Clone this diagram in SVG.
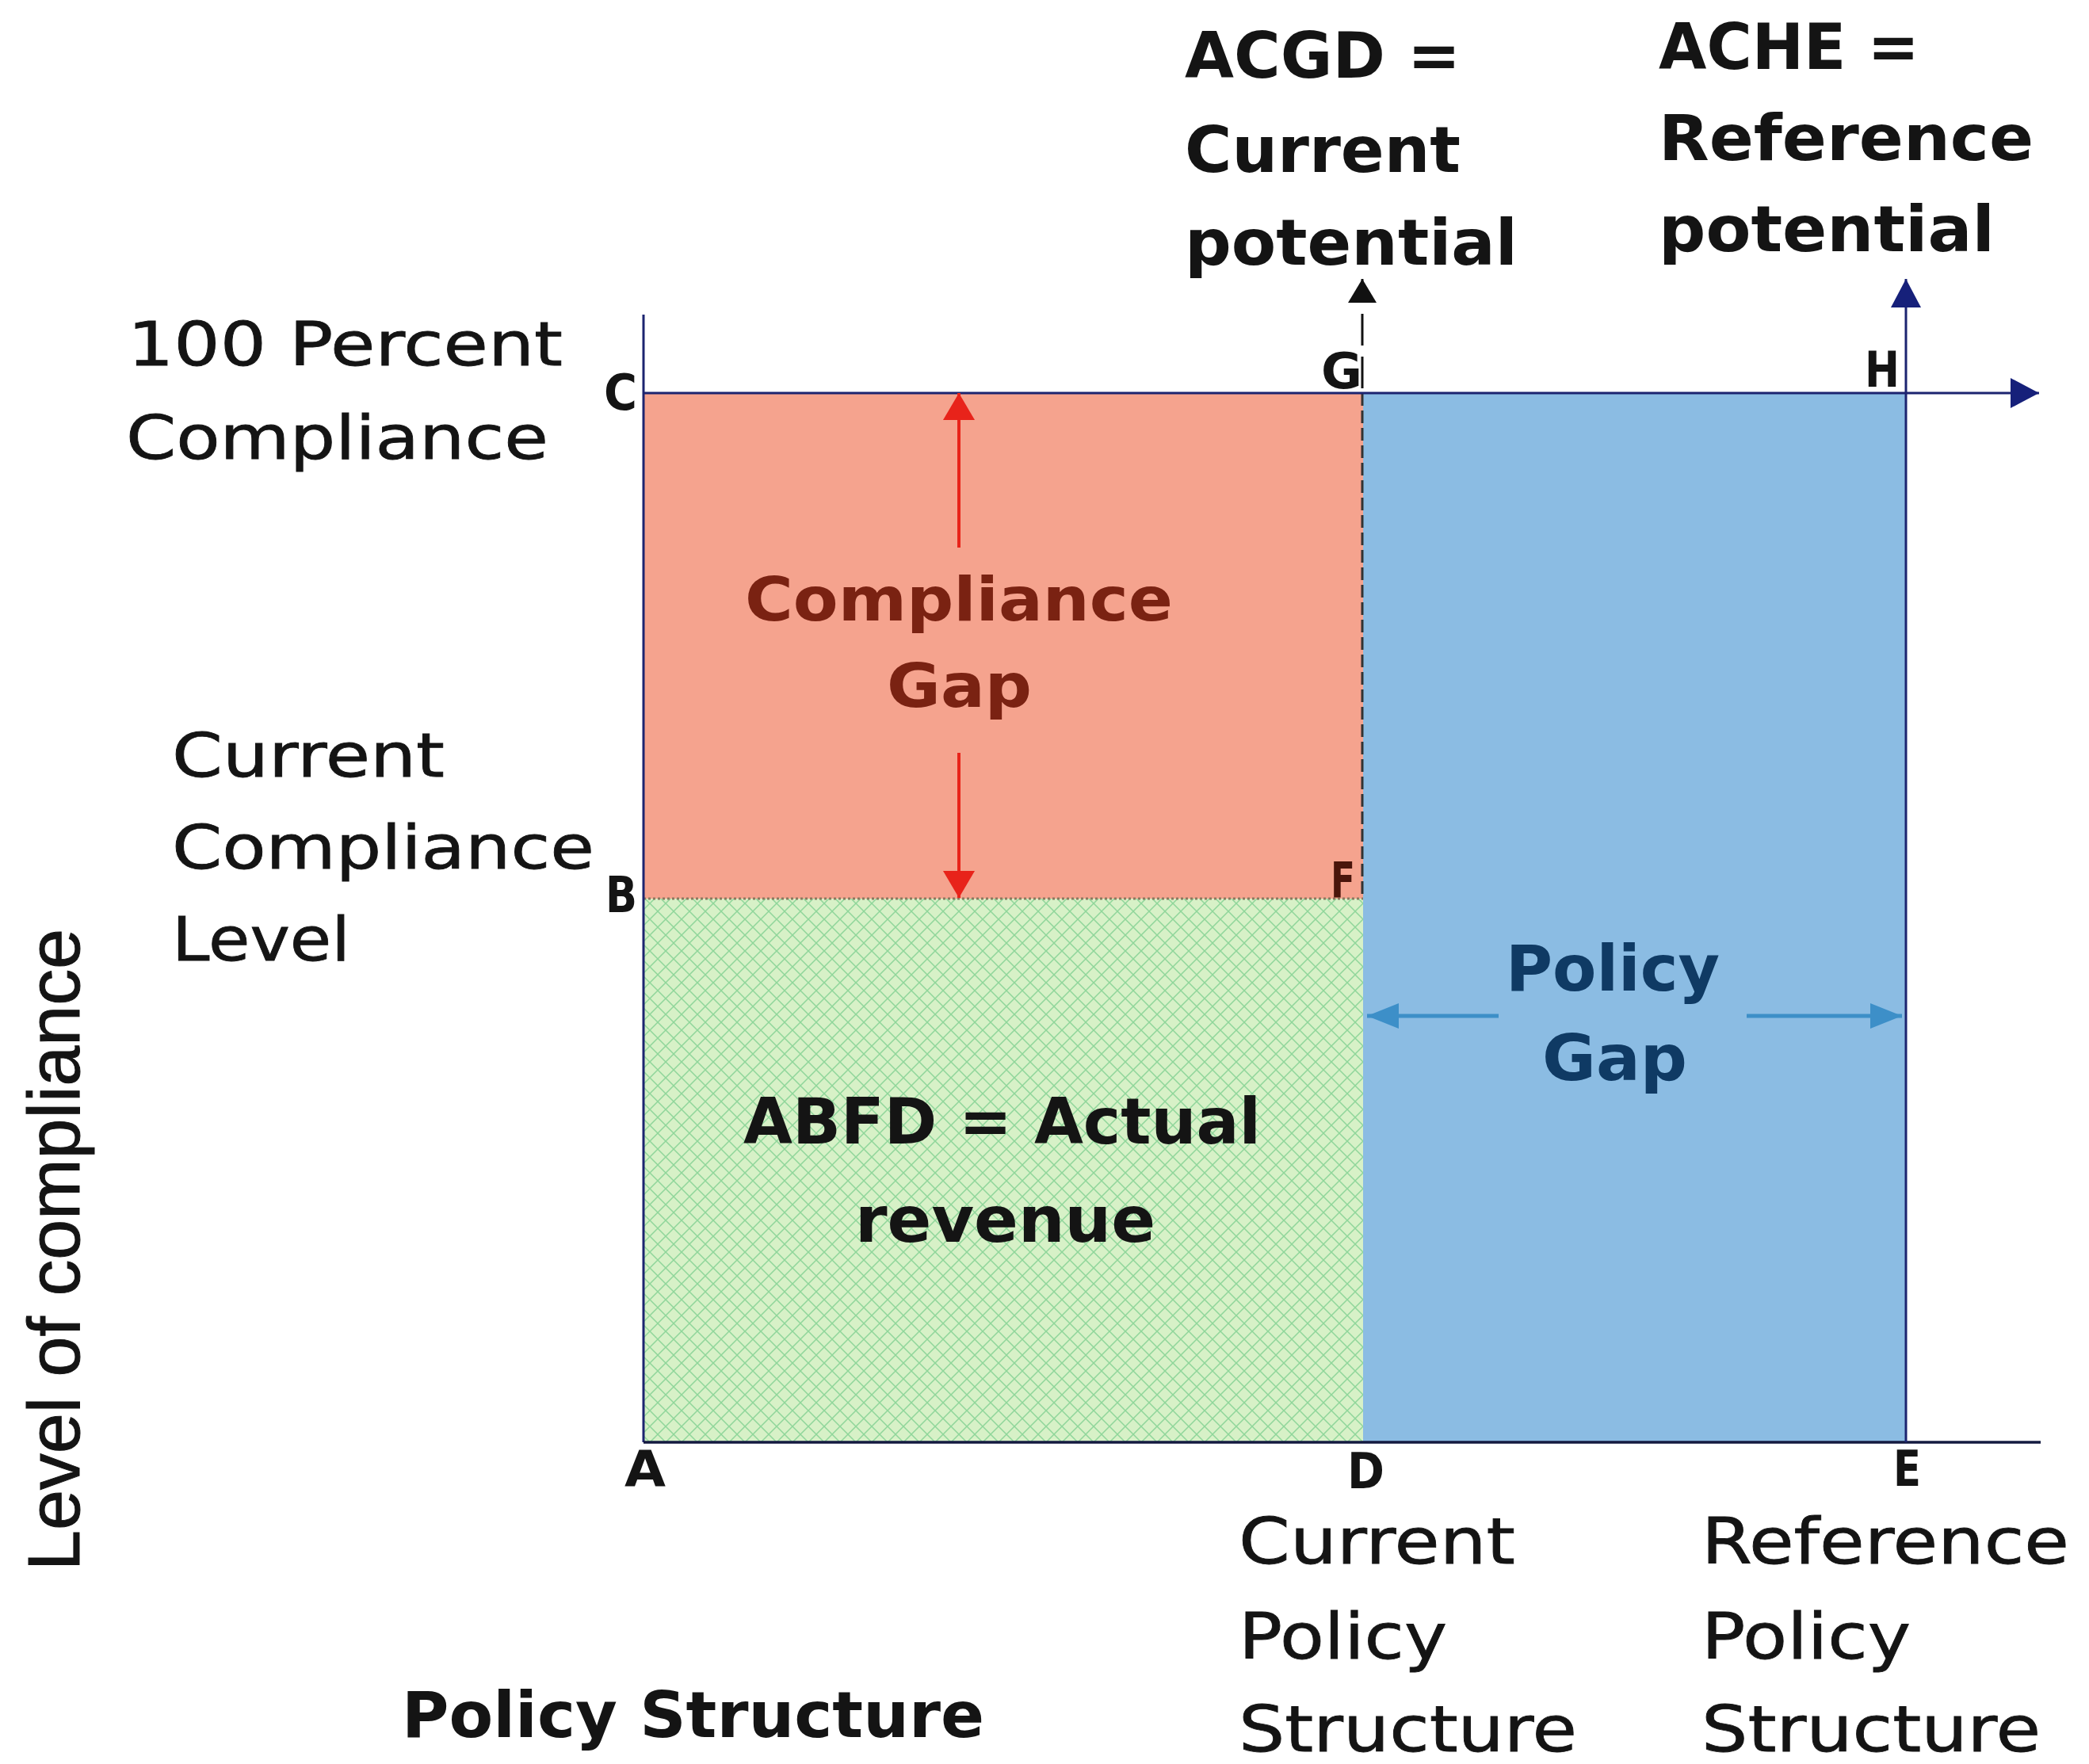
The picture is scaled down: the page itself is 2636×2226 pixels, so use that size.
<svg xmlns="http://www.w3.org/2000/svg" width="2636" height="2226" viewBox="0 0 2636 2226">
  <defs>
    <style>
      .reg{font-family:"DejaVu Sans",Verdana,sans-serif;fill:#141414;stroke:#141414;stroke-width:0.8}
      .bold{font-family:"DejaVu Sans",Verdana,sans-serif;font-weight:bold;fill:#141414}
      .lbl{font-family:"DejaVu Sans",Verdana,sans-serif;font-weight:bold;font-size:62px;fill:#141414}
      .axis{stroke:#1c2470;stroke-width:3;fill:none}
    </style>
    <pattern id="hatch" width="20" height="20" patternUnits="userSpaceOnUse">
      <rect width="20" height="20" fill="#d7f1c7"/>
      <path d="M0 0L20 20M20 0L0 20" stroke="#8fd69a" stroke-width="1.5"/>
    </pattern>
    <marker id="mRed" markerUnits="userSpaceOnUse" markerWidth="34" markerHeight="40" refX="34" refY="20" orient="auto">
      <path d="M0 0L34 20L0 40Z" fill="#e8231a"/>
    </marker>
    <marker id="mNavy" markerUnits="userSpaceOnUse" markerWidth="36" markerHeight="38" refX="36" refY="19" orient="auto">
      <path d="M0 0L36 19L0 38Z" fill="#16207a"/>
    </marker>
    <marker id="mBlack" markerUnits="userSpaceOnUse" markerWidth="30" markerHeight="36" refX="30" refY="18" orient="auto">
      <path d="M0 0L30 18L0 36Z" fill="#111"/>
    </marker>
    <marker id="mBlue" markerUnits="userSpaceOnUse" markerWidth="40" markerHeight="32" refX="40" refY="16" orient="auto">
      <path d="M0 0L40 16L0 32Z" fill="#3d8fc8"/>
    </marker>
  </defs>

  <rect width="2636" height="2226" fill="#ffffff"/>

  <!-- regions -->
  <g id="compliance-gap-region">
    <rect x="812" y="496" width="908" height="638" fill="#f5a38e"/>
  </g>
  <g id="actual-revenue-region">
    <rect x="812" y="1134" width="908" height="686" fill="url(#hatch)"/>
  </g>
  <g id="policy-gap-region">
    <rect x="1720" y="496" width="685" height="1324" fill="#8bbce3"/>
  </g>

  <!-- axes, guide lines and arrows -->
  <g id="connectors">
    <line x1="812" y1="1134" x2="1720" y2="1134" stroke="#8a7a60" stroke-width="3" stroke-dasharray="3 3"/>
    <line x1="1719" y1="496" x2="1719" y2="1134" stroke="#333" stroke-width="3" stroke-dasharray="16 6"/>
    <line x1="1719" y1="490" x2="1719" y2="352" stroke="#111" stroke-width="3" stroke-dasharray="40 14" marker-end="url(#mBlack)"/>
    <line x1="812" y1="397" x2="812" y2="1820" class="axis"/>
    <line x1="812" y1="496" x2="2573" y2="496" class="axis" marker-end="url(#mNavy)"/>
    <line x1="812" y1="1820" x2="2575" y2="1820" stroke="#141a40" stroke-width="3.5"/>
    <line x1="2405" y1="1820" x2="2405" y2="352" class="axis" marker-end="url(#mNavy)"/>
    <line x1="1210" y1="691" x2="1210" y2="496" stroke="#e8231a" stroke-width="4" marker-end="url(#mRed)"/>
    <line x1="1210" y1="950" x2="1210" y2="1133" stroke="#e8231a" stroke-width="4" marker-end="url(#mRed)"/>
    <line x1="1891" y1="1282" x2="1725" y2="1282" stroke="#3d8fc8" stroke-width="5" marker-end="url(#mBlue)"/>
    <line x1="2204" y1="1282" x2="2400" y2="1282" stroke="#3d8fc8" stroke-width="5" marker-end="url(#mBlue)"/>
  </g>

  <!-- corner letters -->
  <g id="point-labels">
    <text class="lbl" x="762" y="517" textLength="42" lengthAdjust="spacingAndGlyphs">C</text>
    <text class="lbl" x="764" y="1151" textLength="40" lengthAdjust="spacingAndGlyphs">B</text>
    <text class="lbl" x="788" y="1875" textLength="52" lengthAdjust="spacingAndGlyphs">A</text>
    <text class="lbl" x="1700" y="1878" textLength="47" lengthAdjust="spacingAndGlyphs">D</text>
    <text class="lbl" x="2389" y="1875" textLength="35" lengthAdjust="spacingAndGlyphs">E</text>
    <text class="lbl" x="1679" y="1132" textLength="31" lengthAdjust="spacingAndGlyphs" style="fill:#4a150b">F</text>
    <text class="lbl" x="1667" y="490" textLength="52" lengthAdjust="spacingAndGlyphs">G</text>
    <text class="lbl" x="2353" y="488" textLength="44" lengthAdjust="spacingAndGlyphs">H</text>
  </g>

  <!-- left side captions -->
  <g id="label-100-percent">
    <text class="reg" font-size="76" x="161" y="461" textLength="549" lengthAdjust="spacingAndGlyphs">100 Percent</text>
    <text class="reg" font-size="76" x="159" y="579" textLength="533" lengthAdjust="spacingAndGlyphs">Compliance</text>
  </g>
  <g id="label-current-compliance">
    <text class="reg" font-size="76" x="217" y="980" textLength="344" lengthAdjust="spacingAndGlyphs">Current</text>
    <text class="reg" font-size="76" x="217" y="1096" textLength="533" lengthAdjust="spacingAndGlyphs">Compliance</text>
    <text class="reg" font-size="76" x="217" y="1212" textLength="225" lengthAdjust="spacingAndGlyphs">Level</text>
  </g>
  <g id="label-y-axis">
    <text font-family="'Liberation Sans',Arial,sans-serif" font-size="92" fill="#141414" stroke="#141414" stroke-width="1" transform="translate(100 1982) rotate(-90)" textLength="810" lengthAdjust="spacingAndGlyphs">Level of compliance</text>
  </g>

  <!-- region captions -->
  <g id="label-compliance-gap">
    <text class="bold" font-size="76" x="940" y="783" textLength="540" lengthAdjust="spacingAndGlyphs" style="fill:#7a2212">Compliance</text>
    <text class="bold" font-size="76" x="1119" y="892" textLength="183" lengthAdjust="spacingAndGlyphs" style="fill:#7a2212">Gap</text>
  </g>
  <g id="label-actual-revenue">
    <text class="bold" font-size="80" x="938" y="1443" textLength="653" lengthAdjust="spacingAndGlyphs">ABFD = Actual</text>
    <text class="bold" font-size="80" x="1079" y="1567" textLength="379" lengthAdjust="spacingAndGlyphs">revenue</text>
  </g>
  <g id="label-policy-gap">
    <text class="bold" font-size="80" x="1900" y="1250" textLength="270" lengthAdjust="spacingAndGlyphs" style="fill:#0f3a64">Policy</text>
    <text class="bold" font-size="80" x="1946" y="1363" textLength="183" lengthAdjust="spacingAndGlyphs" style="fill:#0f3a64">Gap</text>
  </g>

  <!-- top captions -->
  <g id="label-current-potential">
    <text class="bold" font-size="80" x="1495" y="98" textLength="348" lengthAdjust="spacingAndGlyphs">ACGD =</text>
    <text class="bold" font-size="80" x="1495" y="217" textLength="348" lengthAdjust="spacingAndGlyphs">Current</text>
    <text class="bold" font-size="80" x="1495" y="334" textLength="420" lengthAdjust="spacingAndGlyphs">potential</text>
  </g>
  <g id="label-reference-potential">
    <text class="bold" font-size="80" x="2093" y="87" textLength="329" lengthAdjust="spacingAndGlyphs">ACHE =</text>
    <text class="bold" font-size="80" x="2093" y="202" textLength="473" lengthAdjust="spacingAndGlyphs">Reference</text>
    <text class="bold" font-size="80" x="2093" y="317" textLength="424" lengthAdjust="spacingAndGlyphs">potential</text>
  </g>

  <!-- bottom captions -->
  <g id="label-policy-structure">
    <text class="bold" font-size="80" x="507" y="2192" textLength="735" lengthAdjust="spacingAndGlyphs">Policy Structure</text>
  </g>
  <g id="label-current-policy">
    <text class="reg" font-size="80" x="1563" y="1973" textLength="349" lengthAdjust="spacingAndGlyphs">Current</text>
    <text class="reg" font-size="80" x="1563" y="2093" textLength="263" lengthAdjust="spacingAndGlyphs">Policy</text>
    <text class="reg" font-size="80" x="1563" y="2210" textLength="427" lengthAdjust="spacingAndGlyphs">Structure</text>
  </g>
  <g id="label-reference-policy">
    <text class="reg" font-size="80" x="2147" y="1973" textLength="464" lengthAdjust="spacingAndGlyphs">Reference</text>
    <text class="reg" font-size="80" x="2147" y="2093" textLength="264" lengthAdjust="spacingAndGlyphs">Policy</text>
    <text class="reg" font-size="80" x="2147" y="2210" textLength="428" lengthAdjust="spacingAndGlyphs">Structure</text>
  </g>
</svg>
